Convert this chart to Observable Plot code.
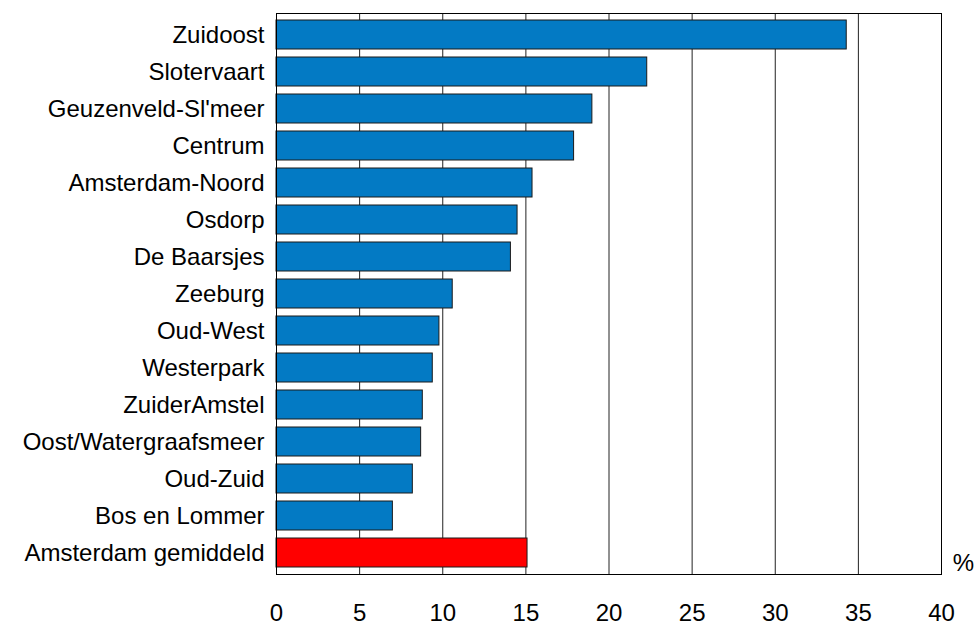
<!DOCTYPE html>
<html>
<head>
<meta charset="utf-8">
<script src="https://cdn.jsdelivr.net/npm/d3@7"></script>
<script src="https://cdn.jsdelivr.net/npm/@observablehq/plot@0.6"></script>
<style>
  html, body { margin: 0; padding: 0; background: #fff; }
  #chart svg { display: block; }
</style>
</head>
<body>
<div id="chart"></div>
<script>
const districts = [
  "Zuidoost", "Slotervaart", "Geuzenveld-Sl'meer", "Centrum", "Amsterdam-Noord",
  "Osdorp", "De Baarsjes", "Zeeburg", "Oud-West", "Westerpark", "ZuiderAmstel",
  "Oost/Watergraafsmeer", "Oud-Zuid", "Bos en Lommer", "Amsterdam gemiddeld"
];
const values = [34.3, 22.3, 19.0, 17.9, 15.4, 14.5, 14.1, 10.6, 9.8, 9.4, 8.8, 8.7, 8.2, 7.0, 15.1];
const xTicks = [0, 5, 10, 15, 20, 25, 30, 35, 40];
const unitLabel = "%";
const averageName = "Amsterdam gemiddeld";

const data = districts.map((d, i) => ({district: d, value: values[i], avg: d === averageName}));

const chart = Plot.plot({
  width: 977,
  height: 625,
  marginLeft: 276,
  marginRight: 36,
  marginTop: 13,
  marginBottom: 51,
  style: {fontFamily: "'Liberation Sans', Arial, sans-serif", fontSize: "24px", color: "#000", background: "#fff"},
  x: {domain: [0, 40], ticks: xTicks, tickSize: 0, tickPadding: 29, label: null, tickFormat: d => String(d)},
  y: {domain: districts, paddingInner: 0.22, paddingOuter: 0.1, tickSize: 0, tickPadding: 12, label: null},
  marks: [
    Plot.ruleX(xTicks, {stroke: "#222", strokeWidth: 1}),
    Plot.barX(data, {
      x: "value", y: "district",
      fill: d => d.avg ? "#ff0000" : "#037ac4",
      stroke: "#1a1a1a", strokeWidth: 1
    }),
    Plot.frame({stroke: "#000", strokeWidth: 1}),
    Plot.text([unitLabel], {frameAnchor: "bottom-right", dx: 22, dy: -11, textAnchor: "middle", lineAnchor: "middle", fontSize: 24, fill: "#000"})
  ]
});
document.getElementById("chart").appendChild(chart);
</script>
</body>
</html>
